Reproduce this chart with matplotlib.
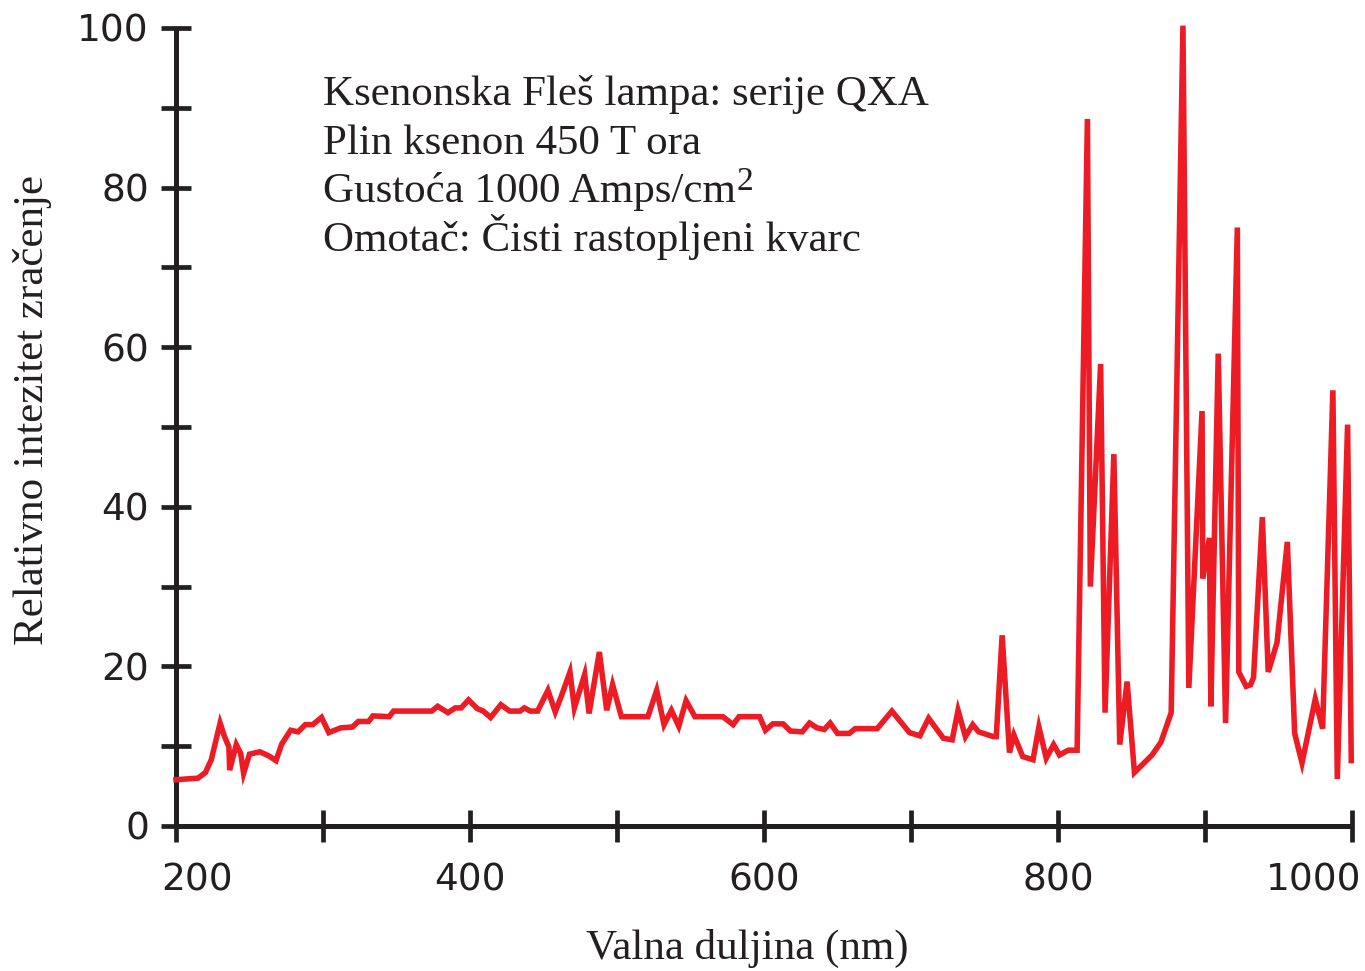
import matplotlib
matplotlib.use("Agg")
import matplotlib.pyplot as plt
from matplotlib.transforms import ScaledTranslation

wavelength = [200, 215, 220, 224, 230, 233, 236, 236.5, 241, 244, 246, 250, 257, 263, 268, 272,
              278, 283, 288, 293, 299, 304, 312, 320, 324, 331, 334, 345, 348, 374, 378, 385,
              390, 394, 399, 405, 409, 414, 421, 427, 434, 437, 441, 446, 453, 458, 462, 468,
              471, 478, 481, 488, 493, 497, 503, 521, 527, 532, 537, 542, 547, 553, 572, 579,
              583, 597, 601, 606, 613, 618, 626, 631, 636, 641, 645, 650, 658, 662, 677, 687,
              699, 706, 712, 722, 728, 732, 737, 742, 746, 756, 758, 762, 767, 770, 776, 783,
              787, 792, 797, 801, 807, 813, 820, 822, 829, 832, 838, 842, 847, 852, 864, 870,
              877, 885, 889, 898, 898.5, 903, 904, 909, 914, 922, 923, 928, 931, 933, 939, 943,
              949, 956, 961, 966, 975, 980, 987, 990, 997, 999.5]
intensity = [5.8, 6.0, 6.7, 8.3, 12.9, 11.2, 9.9, 7.0, 10.2, 9.1, 6.6, 9.0, 9.3, 8.8, 8.2, 10.3,
             12.0, 11.8, 12.7, 12.7, 13.6, 11.7, 12.3, 12.4, 13.1, 13.1, 13.8, 13.7, 14.4, 14.4, 15.0, 14.2,
             14.8, 14.8, 15.8, 14.7, 14.4, 13.6, 15.2, 14.4, 14.4, 14.8, 14.4, 14.4, 17.0, 14.3, 16.2, 19.3,
             14.8, 19.0, 14.1, 21.8, 14.5, 17.7, 13.7, 13.7, 17.0, 12.7, 14.5, 12.5, 15.7, 13.7, 13.7, 12.7,
             13.7, 13.7, 12.0, 12.8, 12.8, 11.9, 11.8, 12.9, 12.3, 12.1, 12.9, 11.6, 11.6, 12.2, 12.2, 14.4,
             11.7, 11.3, 13.5, 11.0, 10.8, 14.5, 11.2, 12.7, 11.8, 11.2, 11.2, 23.9, 9.2, 11.4, 8.7, 8.3,
             12.4, 8.5, 10.2, 8.9, 9.5, 9.5, 88.6, 30.0, 57.9, 14.2, 46.6, 10.2, 18.1, 6.7, 8.9, 10.5,
             14.2, 100.3, 17.3, 52.0, 31.0, 36.1, 15.0, 59.2, 12.9, 75.0, 19.3, 17.5, 17.7, 18.6, 38.7, 19.3,
             23.0, 35.6, 11.6, 7.9, 15.9, 12.2, 54.6, 5.9, 50.3, 8.2]

y_major = [0, 20, 40, 60, 80, 100]
y_minor = [10, 30, 50, 70, 90]
x_major = [200, 400, 600, 800, 1000]
x_minor = [300, 500, 700, 900]
annotation_lines = ["Ksenonska Fleš lampa: serije QXA",
                    "Plin ksenon 450 T ora",
                    "Gustoća 1000 Amps/cm",
                    "Omotač: Čisti rastopljeni kvarc"]
superscript = "2"

ink = "#231F20"
fig = plt.figure(figsize=(13.65, 9.71), dpi=100)
ax = fig.add_axes([176/1365, 1-826/971, (1352-176)/1365, (826-28)/971])

ax.plot(wavelength, intensity, color="#ED1C24", lw=4.0, solid_joinstyle="miter", clip_on=False, zorder=3)

ax.set_xlim(200, 1000)
ax.set_ylim(0, 100)
for s in ["top", "right"]:
    ax.spines[s].set_visible(False)
for s in ["left", "bottom"]:
    ax.spines[s].set_linewidth(3.6)
    ax.spines[s].set_color(ink)
    ax.spines[s].set_capstyle("butt")

ax.set_xticks(x_major)
ax.set_xticks(x_minor, minor=True)
ax.set_yticks(y_major)
ax.set_yticks(y_minor, minor=True)

ax.tick_params(axis="y", which="both", direction="inout", length=21, width=3.4, color=ink,
               labelsize=27, pad=9, labelcolor=ink)
ax.tick_params(axis="x", which="both", direction="inout", length=23, width=3.4, color=ink,
               labelsize=27, pad=15, labelcolor=ink)
ax.set_xticklabels([str(v) for v in x_major])
ax.set_yticklabels([str(v) for v in y_major])

xl = ax.get_xticklabels()
xl[0].set_transform(xl[0].get_transform() + ScaledTranslation(21/100, 0, fig.dpi_scale_trans))
xl[-1].set_transform(xl[-1].get_transform() + ScaledTranslation(-38/100, 0, fig.dpi_scale_trans))

serif = ["Liberation Serif", "DejaVu Serif"]
ax.set_ylabel("Relativno intezitet zračenje", family=serif, fontsize=31, color=ink)
ax.yaxis.set_label_coords((52-176)/1176, (826-410)/798)
ax.set_xlabel("Valna duljina (nm)", family=serif, fontsize=31, color=ink)
ax.xaxis.set_label_coords((747-176)/1176, (826-929)/798)

texts = []
for i, line in enumerate(annotation_lines):
    t = fig.text(323/1365, 1 - (105 + i*48.5)/971, line, family=serif, fontsize=31,
                 color=ink, ha="left", va="baseline")
    texts.append(t)

fig.canvas.draw()
bb = texts[2].get_window_extent()
fig.text((bb.x1 + 1)/1365, 1 - (105 + 2*48.5 - 12)/971, superscript, family=serif, fontsize=24,
         color=ink, ha="left", va="baseline")

fig.savefig("out.png", dpi=100)
